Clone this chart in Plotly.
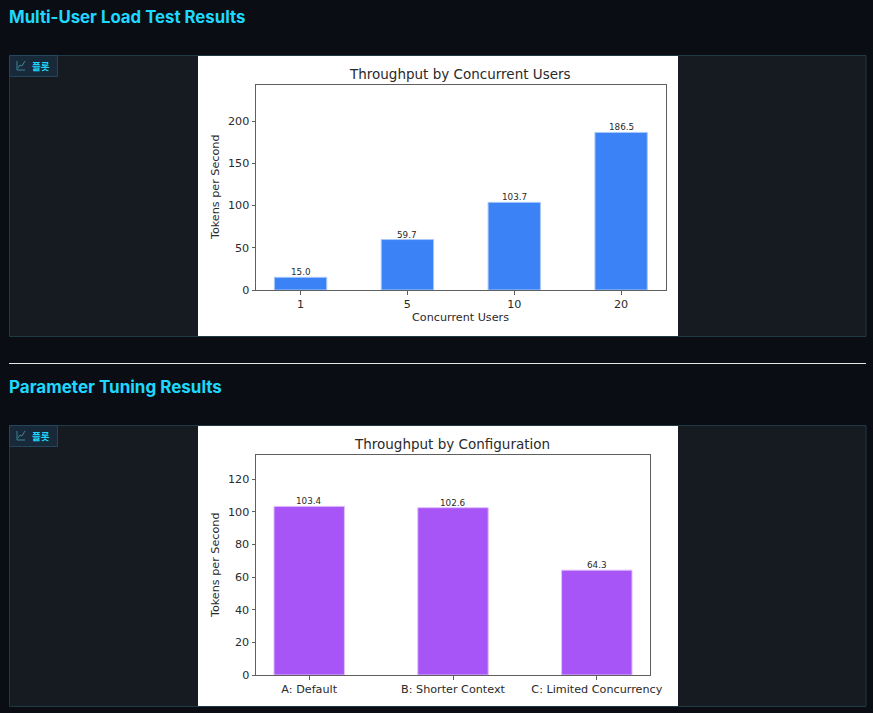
"""
Multi-user load test and parameter tuning results, drawn as one dark page
"""
import plotly.graph_objects as go

################ DATA ###################
USERS = ['1', '5', '10', '20']
USERS_TPS = [15.0, 59.7, 103.7, 186.5]
USERS_LABELS = ['15.0', '59.7', '103.7', '186.5']

CONFIGS = ['A: Default', 'B: Shorter Context', 'C: Limited Concurrency']
CONFIGS_TPS = [103.4, 102.6, 64.3]
CONFIGS_LABELS = ['103.4', '102.6', '64.3']

USERS_TICKS = [0, 50, 100, 150, 200]
CONFIGS_TICKS = [0, 20, 40, 60, 80, 100, 120]

################ PARAMS #################
W, H = 873, 713
BG = '#0a0d14'
PANEL = '#161b22'
PANEL_LINE = '#1f3a44'
CYAN = '#1fd8ff'
INK = '#2a2a2a'
AXIS_LINE = '#5f5f5f'
CHART_FONT = 'DejaVu Sans'

# Pixel position -> paper position
def px(x):
    return x / W

def py(y):
    return 1 - y / H

def rect(x0, y0, x1, y1, fill, line=None, width=1):
    return dict(type='rect', xref='paper', yref='paper', layer='below',
                x0=px(x0), x1=px(x1), y0=py(y0), y1=py(y1), fillcolor=fill,
                line=dict(color=line or fill, width=width))

def text(x, y, s, size, color, family=CHART_FONT, anchor='center', angle=0, weight=400):
    return dict(x=px(x), y=py(y), xref='paper', yref='paper', text=s, showarrow=False,
                xanchor=anchor, yanchor='middle', textangle=angle,
                font=dict(size=size, color=color, family=family, weight=weight))

# Category axes take the bar index as annotation position
def bar_labels(vals, labels, xref, yref):
    return [dict(x=i, y=v, xref=xref, yref=yref, text=t, showarrow=False, yanchor='bottom',
                 yshift=-2, font=dict(size=8.8, color=INK, family=CHART_FONT))
            for i, (v, t) in enumerate(zip(vals, labels))]

fig = go.Figure()

fig.add_trace(go.Bar(x=USERS, y=USERS_TPS, xaxis='x', yaxis='y',
                     marker=dict(color='#3b82f6', line=dict(color='#a9c8fb', width=1))))
fig.add_trace(go.Bar(x=CONFIGS, y=CONFIGS_TPS, xaxis='x2', yaxis='y2',
                     marker=dict(color='#a855f7', line=dict(color='#e0c0fc', width=1))))

axis = dict(showline=True, mirror=True, linecolor=AXIS_LINE, linewidth=1, showgrid=False,
            zeroline=False, ticks='outside', ticklen=3.5, tickcolor=AXIS_LINE, tickwidth=1,
            automargin=False, tickfont=dict(size=11.2, color=INK, family=CHART_FONT))

######## Panels, badges, titles
shapes = []
annotations = [
    text(7, 17, 'Multi-User Load Test Results', 16.8, CYAN, 'Inter', 'left', weight=700),
    text(7, 387, 'Parameter Tuning Results', 17, CYAN, 'Inter', 'left', weight=700),
    text(460, 74, 'Throughput by Concurrent Users', 13.5, INK),
    text(452, 444, 'Throughput by Configuration', 13.5, INK),
    text(460, 317, 'Concurrent Users', 11.2, INK),
    text(215, 187, 'Tokens per Second', 11.2, INK, angle=-90),
    text(215, 565, 'Tokens per Second', 11.2, INK, angle=-90),
]
annotations += bar_labels(USERS_TPS, USERS_LABELS, 'x', 'y')
annotations += bar_labels(CONFIGS_TPS, CONFIGS_LABELS, 'x2', 'y2')
for top in (56, 426):
    shapes.append(rect(9.5, top - 0.5, 866, top + 280.5, PANEL, PANEL_LINE))
    shapes.append(rect(198, top, 678, top + 280, '#ffffff', width=0))
    shapes.append(rect(9.5, top - 0.5, 57.5, top + 20.5, '#182a3a', '#23465a'))
    # little chart icon in the badge
    shapes.append(dict(type='path', xref='paper', yref='paper',
                       path='M %f %f L %f %f L %f %f M %f %f L %f %f L %f %f L %f %f' % (
                           px(17), py(top + 5), px(17), py(top + 14), px(25), py(top + 14),
                           px(18), py(top + 12), px(20), py(top + 9), px(22), py(top + 10), px(25), py(top + 5)),
                       line=dict(color='#3f8296', width=1)))
    annotations.append(text(41, top + 9.5, '플롯', 9.6, CYAN, 'Noto Sans CJK KR', weight=700))
shapes.append(rect(9, 363, 866, 364, '#e6e6e6', width=0))

fig.update_layout(
    width=W, height=H, autosize=False, showlegend=False, bargap=0.51,
    margin=dict(l=0, r=0, t=0, b=0, autoexpand=False),
    paper_bgcolor=BG, plot_bgcolor='#ffffff',
    shapes=shapes, annotations=annotations,
    xaxis=dict(axis, type='category', domain=[px(256), px(666)], range=[-0.417, 3.42], anchor='y'),
    yaxis=dict(axis, domain=[py(290), py(85)], range=[0, 242.6], tickvals=USERS_TICKS, anchor='x'),
    xaxis2=dict(axis, type='category', domain=[px(256), px(650)], range=[-0.37, 2.37], anchor='y2'),
    yaxis2=dict(axis, domain=[py(675), py(455)], range=[0, 134.9], tickvals=CONFIGS_TICKS, anchor='x2'),
)

# Drop the browser's default body margin so the page is exactly the figure
fig.write_html('out.html', config=dict(displayModeBar=False),
               post_script="document.body.style.margin='0';document.body.style.background='%s';" % BG)
